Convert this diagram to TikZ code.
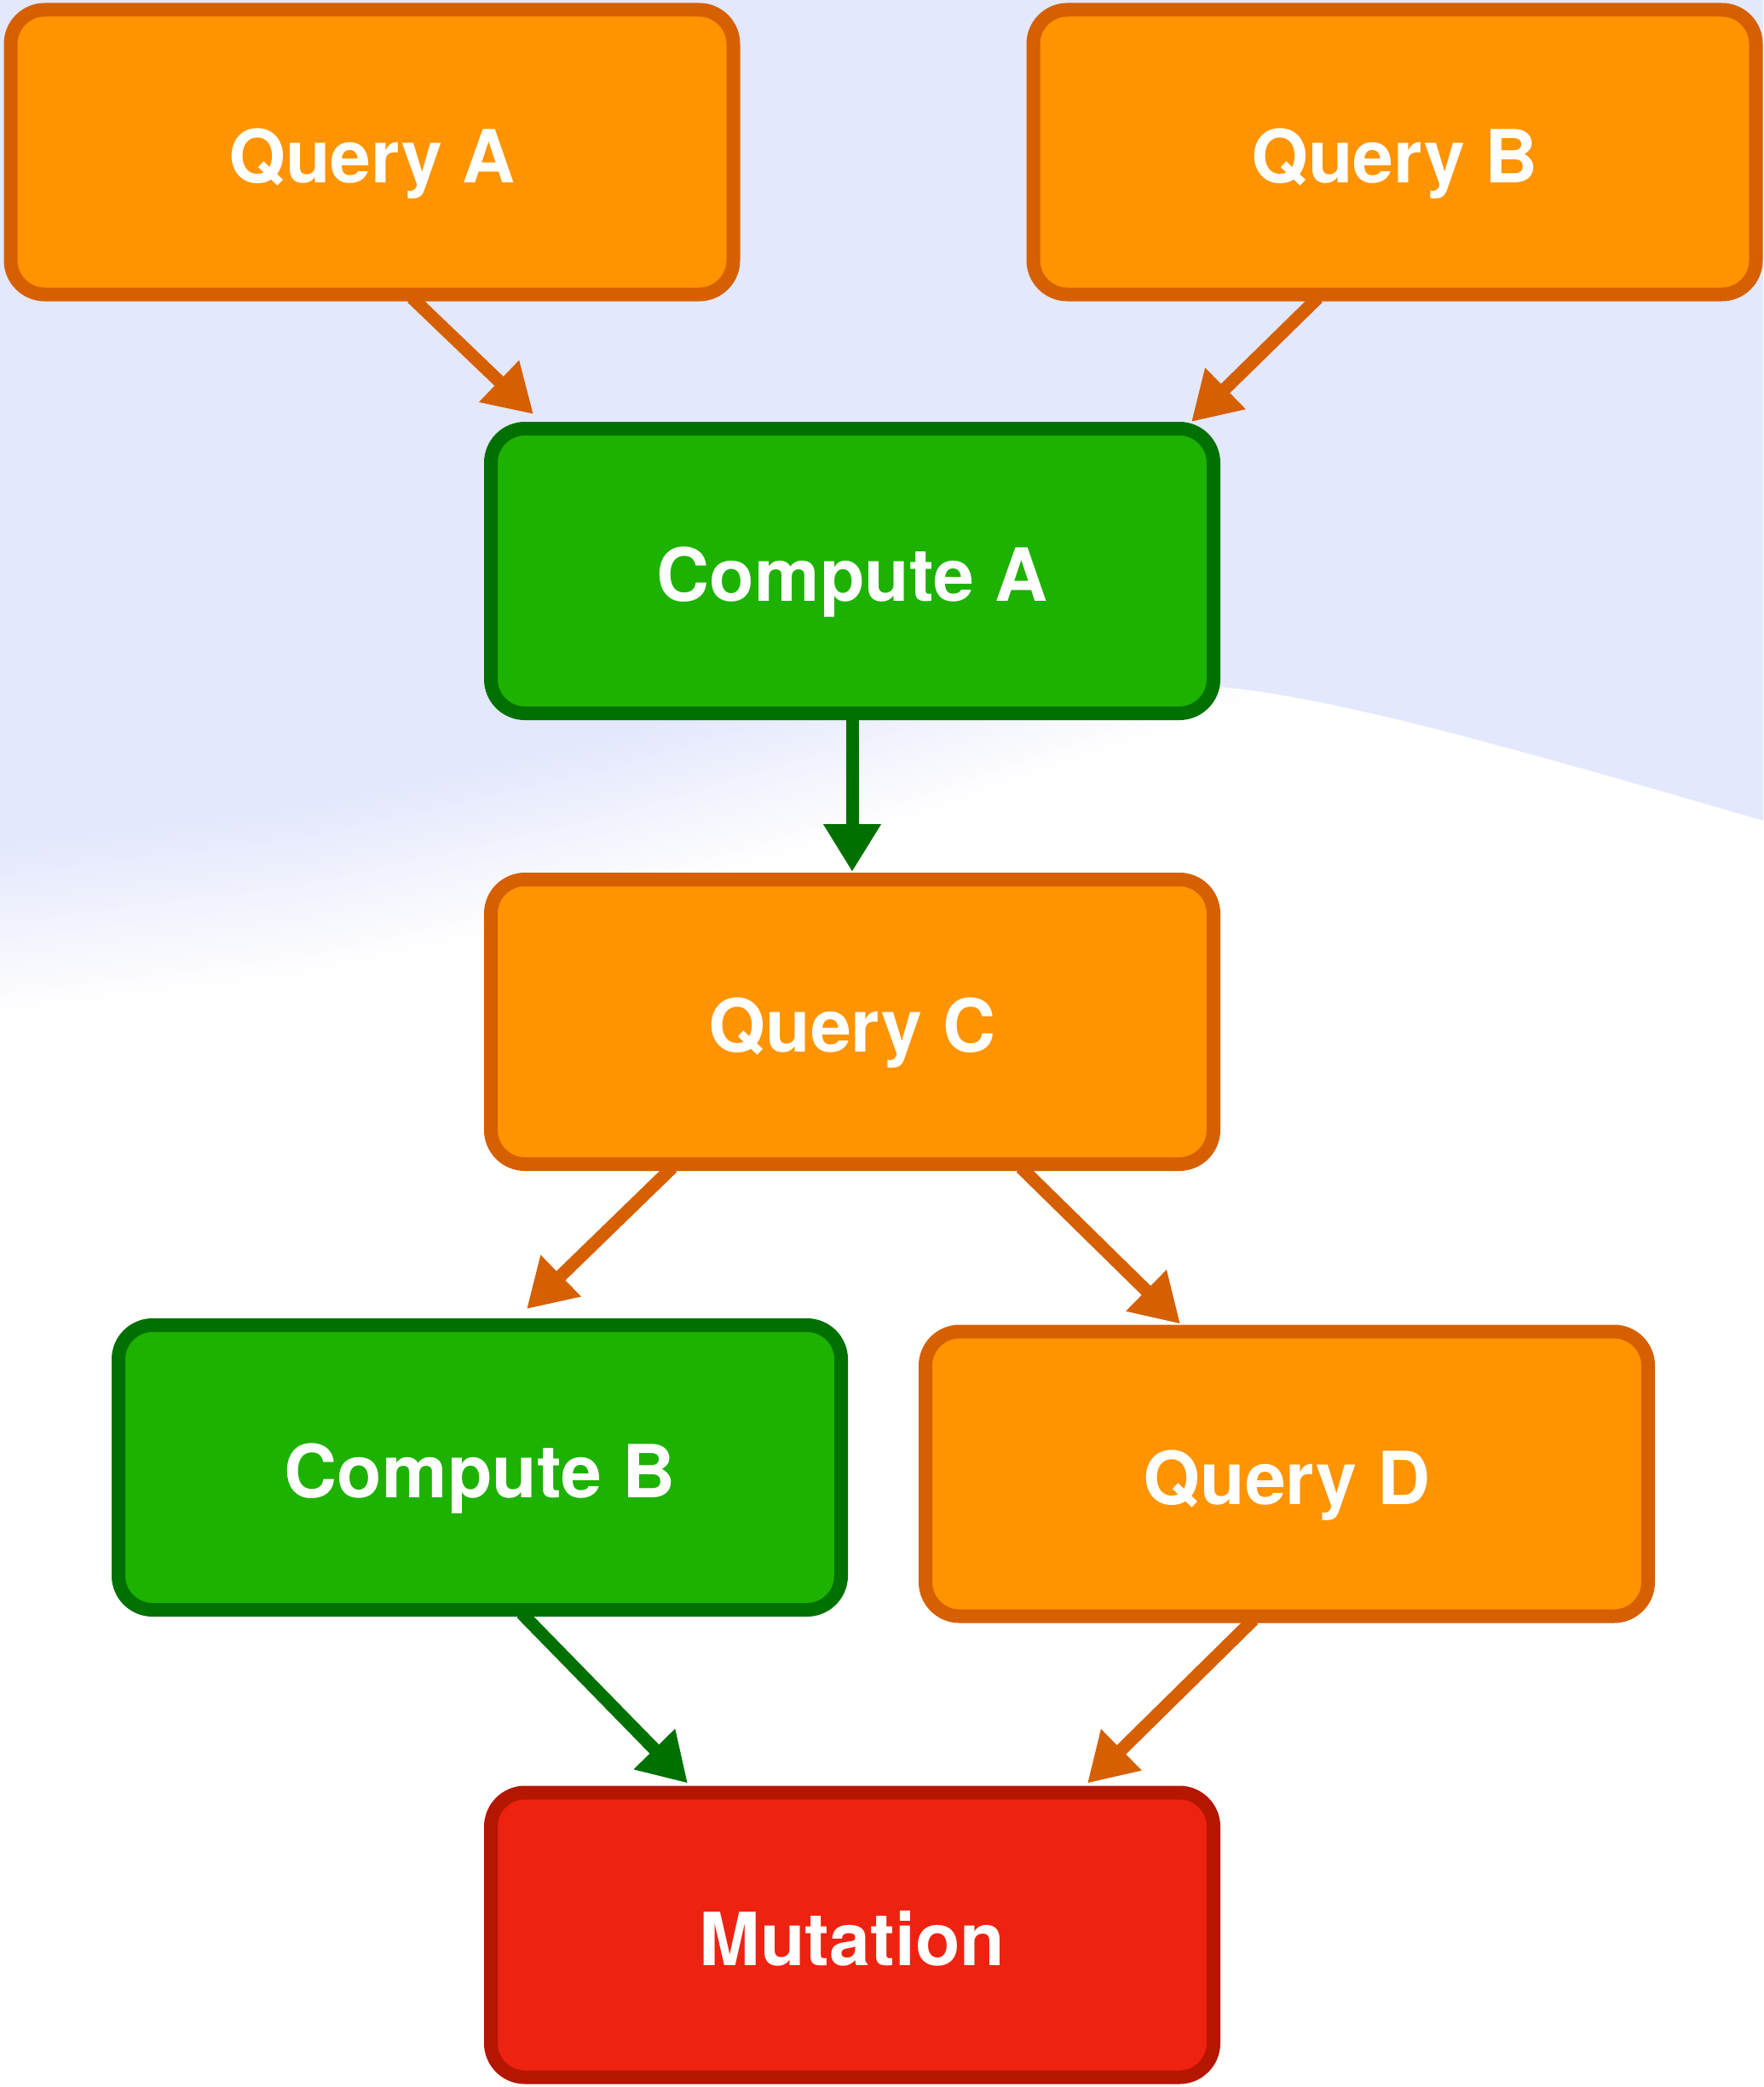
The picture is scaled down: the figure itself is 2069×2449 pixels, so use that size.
\documentclass[tikz,border=0pt]{standalone}
\usepackage{fontspec}
\setmainfont{TeX Gyre Heros}
\usetikzlibrary{arrows.meta,calc}
\definecolor{lav}{HTML}{E4E8FC}
\definecolor{ofill}{HTML}{FF9300}
\definecolor{oline}{HTML}{D65F00}
\definecolor{gfill}{HTML}{1DB200}
\definecolor{gline}{HTML}{007100}
\definecolor{rfill}{HTML}{EE2210}
\definecolor{rline}{HTML}{B51600}
\tikzset{
  box/.style={rounded corners=40pt, line width=16pt, minimum width=848pt, minimum height=334pt,
    text=white, font=\fontsize{86}{100}\selectfont\bfseries, inner sep=0pt,
    text height=71pt, text depth=0pt},
  qbox/.style={box, draw=oline, fill=ofill},
  cbox/.style={box, draw=gline, fill=gfill},
  mbox/.style={box, draw=rline, fill=rfill},
  oarr/.style={draw=oline, line width=15pt, -{Triangle[length=56pt,width=64pt]}, fill=oline},
  garr/.style={draw=gline, line width=15pt, -{Triangle[length=56pt,width=64pt]}, fill=gline}
}
\newcommand\bandline[1]{(0,{#1}) -- (355,{#1-43.75}) -- (710,{#1-123.7}) -- (1065,{#1-227.3}) -- (1420,{#1-350}) -- (1745,{#1-476.8}) -- (2069,{#1-615})}
\newcommand\bandlinerev[1]{(2069,{#1-615}) -- (1745,{#1-476.8}) -- (1420,{#1-350}) -- (1065,{#1-227.3}) -- (710,{#1-123.7}) -- (355,{#1-43.75}) -- (0,{#1})}
\begin{document}
\begin{tikzpicture}[x=1pt,y=-1pt]
\useasboundingbox (0,0) rectangle (2069,2449);
% background
\fill[lav] (0,0) rectangle (2069,2449);
\begin{scope}
\clip (2069,963) .. controls (1800,885) and (1560,815) .. (1420,805)
  .. controls (1150,790) and (700,800) .. (0,850) -- (0,2449) -- (2069,2449) -- cycle;
\foreach \i in {0,...,39} {
  \pgfmathsetmacro\ta{990+5*\i}
  \pgfmathsetmacro\tb{\ta+6}
  \pgfmathsetmacro\pc{100-2.5*\i}
  \fill[lav!\pc!white] \bandline{\ta} -- \bandlinerev{\tb} -- cycle;
}
\fill[white] \bandline{1190} -- (2069,2449) -- (0,2449) -- cycle;
\end{scope}
% nodes
\node[qbox] (qa) at (436.5,178.5) {Query A};
\node[qbox] (qb) at (1636.5,178.5) {Query B};
\node[cbox] (ca) at (1000,670) {Compute A};
\node[qbox] (qc) at (1000,1199) {Query C};
\node[cbox] (cb) at (563,1722) {Compute B};
\node[qbox] (qd) at (1510,1729.5) {Query D};
\node[mbox] (mu) at (1000,2270.5) {Mutation};
% connectors
\draw[oarr] ($(qa.south)+(47,-4)$) -- ($(ca.north west)+(58,-9)$);
\draw[oarr] ($(qb.south)+(-90,-4)$) -- ($(ca.north east)+(-34,0)$);
\draw[garr] ($(ca.south)+(0,-4)$) -- ($(qc.north)+(0,-1)$);
\draw[oarr] ($(qc.south)+(-211,-4)$) -- ($(cb.north)+(55,-11)$);
\draw[oarr] ($(qc.south)+(198,-4)$) -- ($(qd.north)+(-125,-1)$);
\draw[garr] ($(cb.south)+(49,-4)$) -- ($(mu.north)+(-193,-3)$);
\draw[oarr] ($(qd.south)+(-39,-4)$) -- ($(mu.north)+(276,-3)$);
\end{tikzpicture}
\end{document}
